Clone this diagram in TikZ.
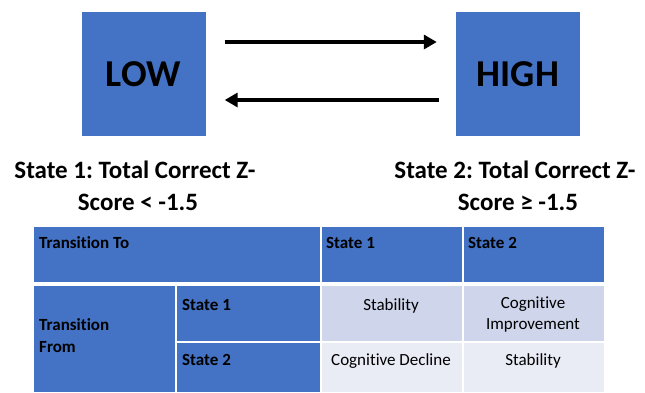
\documentclass[tikz,border=0pt]{standalone}
\usepackage{fontspec}
\setmainfont{Carlito}[Ligatures=NoCommon]
\frenchspacing
\usetikzlibrary{arrows.meta,calc}
\definecolor{obl}{HTML}{4472C4}
\definecolor{rowA}{HTML}{CFD5EA}
\definecolor{rowB}{HTML}{E9EBF5}
\begin{document}
\begin{tikzpicture}[x=1pt,y=-1pt,
  statebox/.style={fill=obl,draw=none,minimum width=124pt,minimum height=124pt,inner sep=0pt,font=\fontsize{38}{40}\selectfont\bfseries},
  lbl/.style={anchor=base,inner sep=0pt,font=\fontsize{25}{32}\selectfont\bfseries},
  thead/.style={anchor=base west,inner sep=0pt,font=\fontsize{17}{22}\selectfont\bfseries},
  tcell/.style={anchor=base,inner sep=0pt,align=center,font=\fontsize{17}{20}\selectfont},
  arr/.style={line width=4pt,-{Triangle[length=13pt,width=14pt]}}]
\useasboundingbox (0,0) rectangle (645,392);
\fill[white] (0,0) rectangle (645,392);
% boxes
\node[statebox] (low) at (143.5,74) {\raisebox{-1.5pt}{LOW}};
\node[statebox] (high) at (518,74) {\raisebox{-1.5pt}{HIGH}};
\coordinate (a1) at ($(low.east)+(19,-32)$);
\coordinate (a2) at ($(high.west)+(-19,-32)$);
\coordinate (b1) at ($(high.west)+(-17,26)$);
\coordinate (b2) at ($(low.east)+(19,26)$);
\draw[arr] (a1) -- (a2);
\draw[arr] (b1) -- (b2);
% labels
\node[lbl] (l1a) at (135,178) {State 1: Total Correct Z-};
\node[lbl] (l1b) at (138,210) {Score < -1.5};
\node[lbl] (l2a) at (515,178) {State 2: Total Correct Z-};
\node[lbl] (l2b) at (518,210) {Score ≥ -1.5};
% table backgrounds
\fill[obl] (34,227) rectangle (320,282);
\fill[obl] (322,227) rectangle (462,282);
\fill[obl] (464,227) rectangle (604,282);
\fill[obl] (34,286) rectangle (175,392);
\fill[obl] (177,286) rectangle (320,341);
\fill[obl] (177,343) rectangle (320,392);
\fill[rowA] (322,286) rectangle (462,341);
\fill[rowA] (464,286) rectangle (604,341);
\fill[rowB] (322,343) rectangle (462,392);
\fill[rowB] (464,343) rectangle (604,392);
% table text
\node[thead] (tt) at (39,248) {Transition To};
\node[thead] (h1) at (326,248) {State 1};
\node[thead] (h2) at (468,248) {State 2};
\node[thead] (tf) at (39,330) {Transition};
\node[thead] (tf2) at (39,352) {From};
\node[thead] (r1) at (182,310) {State 1};
\node[thead] (r2) at (182,365) {State 2};
\node[tcell] (c11) at (391,310) {Stability};
\node[tcell] (c12a) at (533,308) {Cognitive};
\node[tcell] (c12b) at (533,329) {Improvement};
\node[tcell] (c21) at (391,365) {Cognitive Decline};
\node[tcell] (c22) at (533,365) {Stability};
\end{tikzpicture}
\end{document}
